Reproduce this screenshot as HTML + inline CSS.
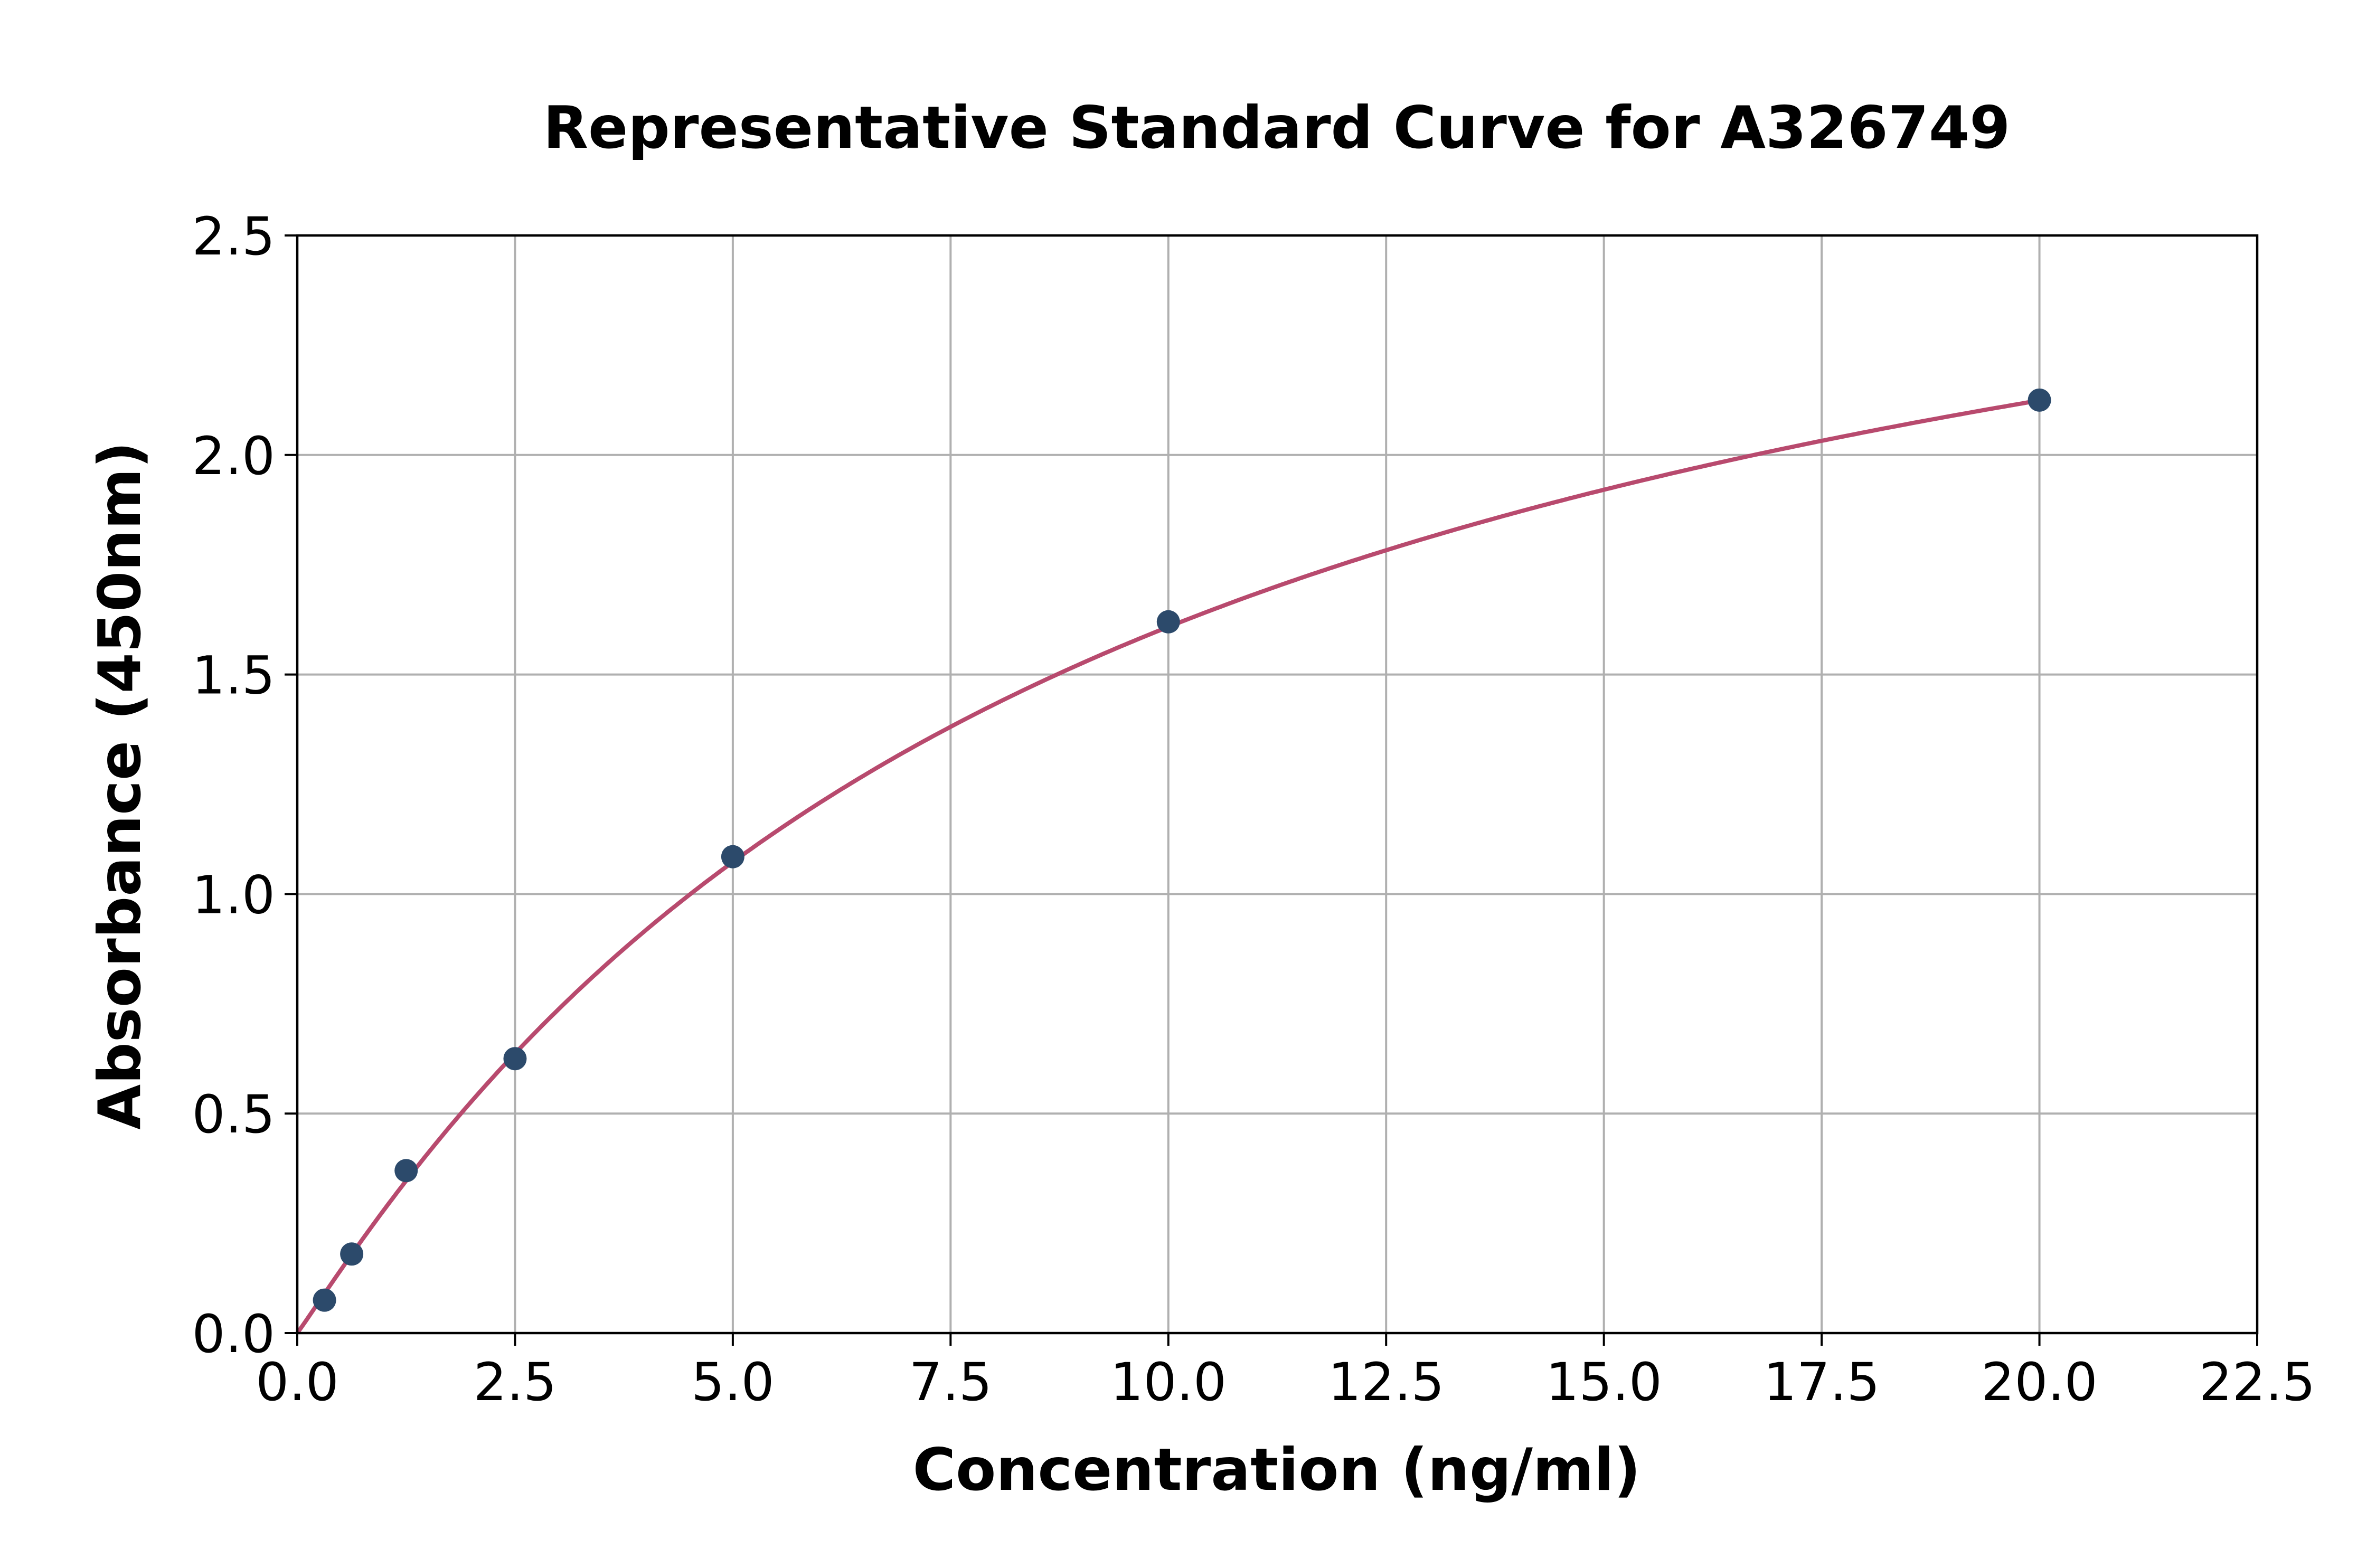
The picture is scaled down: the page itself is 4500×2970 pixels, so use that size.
<!DOCTYPE html>
<html><head><meta charset="utf-8"><style>
html,body{margin:0;padding:0;background:#fff}
svg{display:block}
text{font-family:"DejaVu Sans","Liberation Sans",sans-serif;fill:#000}
</style></head><body>
<svg id="s" width="4500" height="2970" xmlns="http://www.w3.org/2000/svg">
<text x="2418" y="280" font-size="111" font-weight="bold" text-anchor="middle">Representative Standard Curve for A326749</text>
<g id="g"></g>
<text x="2418" y="2822" font-size="111" font-weight="bold" text-anchor="middle">Concentration (ng/ml)</text>
<text transform="translate(265,1488) rotate(-90)" font-size="111" font-weight="bold" text-anchor="middle">Absorbance (450nm)</text>
</svg>
<script>
var X0=563,X1=4275,Y0=2525,Y1=446;
function px(x){return X0+(X1-X0)*x/22.5}
function py(y){return Y0-(Y0-Y1)*y/2.5}
var h='';
for(var i=0;i<=9;i++){var v=i*2.5,x=px(v);
 h+='<line x1="'+x+'" y1="'+Y1+'" x2="'+x+'" y2="'+Y0+'" stroke="#b0b0b0" stroke-width="4"/>';
 h+='<line x1="'+x+'" y1="'+Y0+'" x2="'+x+'" y2="'+(Y0+24)+'" stroke="#000" stroke-width="4"/>';
 h+='<text x="'+x+'" y="'+(Y0+127)+'" font-size="99" text-anchor="middle">'+v.toFixed(1)+'</text>';}
for(var j=0;j<=5;j++){var v=j*0.5,y=py(v);
 h+='<line x1="'+X0+'" y1="'+y+'" x2="'+X1+'" y2="'+y+'" stroke="#b0b0b0" stroke-width="4"/>';
 h+='<line x1="'+(X0-24)+'" y1="'+y+'" x2="'+X0+'" y2="'+y+'" stroke="#000" stroke-width="4"/>';
 h+='<text x="'+(X0-42)+'" y="'+(y+36)+'" font-size="99" text-anchor="end">'+v.toFixed(1)+'</text>';}
function f(x){var a=3.05,b=9.0,n=1.04;return a*Math.pow(x,n)/(Math.pow(b,n)+Math.pow(x,n));}
var d='';for(var k=0;k<=400;k++){var x=k*20/400;d+=(k?'L':'M')+px(x).toFixed(1)+','+py(f(x)).toFixed(1);}
h+='<path d="'+d+'" fill="none" stroke="#b84a6e" stroke-width="8"/>';
var pts=[[0.3125,0.075],[0.625,0.18],[1.25,0.37],[2.5,0.625],[5,1.085],[10,1.62],[20,2.125]];
pts.forEach(function(p){h+='<circle cx="'+px(p[0])+'" cy="'+py(p[1])+'" r="22" fill="#2c4a6b"/>';});
h+='<rect x="'+X0+'" y="'+Y1+'" width="'+(X1-X0)+'" height="'+(Y0-Y1)+'" fill="none" stroke="#000" stroke-width="4.5"/>';
document.getElementById('g').innerHTML=h;
</script>
</body></html>
